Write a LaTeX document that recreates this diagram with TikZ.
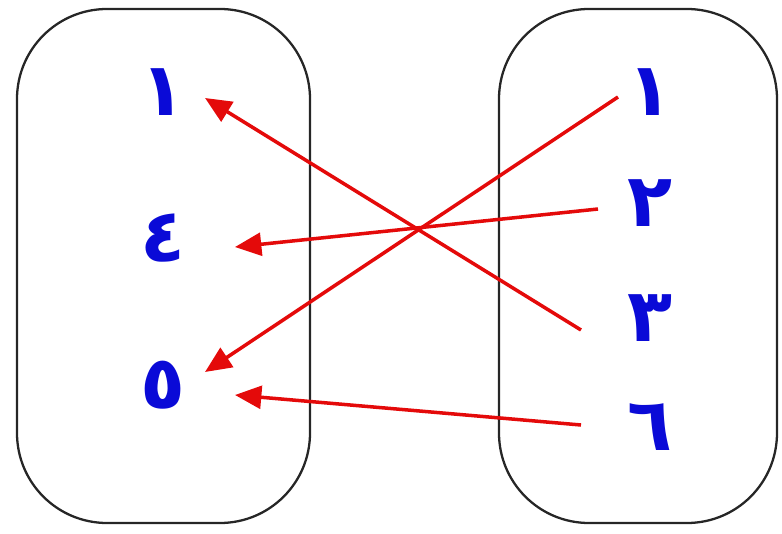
\documentclass[tikz,border=0pt]{standalone}
\usepackage{fontspec}
\newfontfamily\arabicfont[Script=Arabic]{DejaVu Sans}
\TeXXeTstate=1
\usetikzlibrary{arrows.meta}
\definecolor{numblue}{RGB}{10,10,215}
\definecolor{mapred}{RGB}{228,10,10}

\begin{document}
\begin{tikzpicture}[x=0.02cm, y=-0.02cm,
  setbox/.style={draw=black!85, line width=1.3pt, rounded corners=1.8cm},
  num/.style={text=numblue, font=\arabicfont\bfseries\fontsize{42}{48}\selectfont, inner sep=0pt},
  maparrow/.style={draw=mapred, line width=2pt, -{Triangle[length=15pt,width=13pt]}}]
\path[use as bounding box] (0,0) rectangle (782,534);
\draw[setbox] (17,9) rectangle (310,523);
\draw[setbox] (499,9) rectangle (777,523);
% left set
\node[num] (L1) at (163,92) {\beginR ١\endR};
\node[num] (L4) at (163,238) {\beginR ٤\endR};
\node[num] (L5) at (163,385) {\beginR ٥\endR};
% right set
\node[num] (R1) at (650,92) {\beginR ١\endR};
\node[num] (R2) at (650,203) {\beginR ٢\endR};
\node[num] (R3) at (650,318) {\beginR ٣\endR};
\node[num] (R6) at (650,427) {\beginR ٦\endR};
\draw[maparrow] ([shift={(-69,12)}]R3.center) -- ([shift={(42,6)}]L1.center);
\draw[maparrow] ([shift={(-32,5)}]R1.center) -- ([shift={(42,-13)}]L5.center);
\draw[maparrow] ([shift={(-52,6)}]R2.center) -- ([shift={(72,9)}]L4.center);
\draw[maparrow] ([shift={(-69,-2)}]R6.center) -- ([shift={(72,10)}]L5.center);
\end{tikzpicture}
\end{document}
